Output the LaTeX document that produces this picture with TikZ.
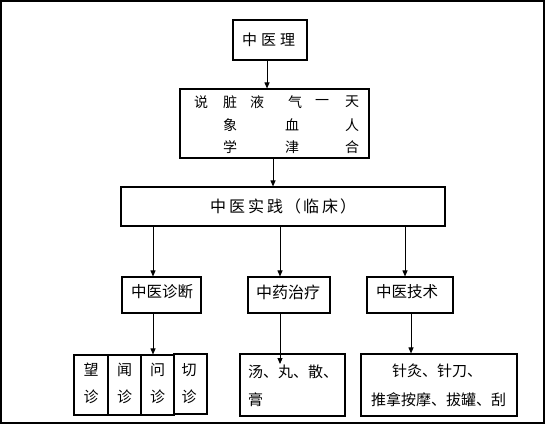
\documentclass[tikz,border=0pt]{standalone}
\usepackage{fontspec}
\newfontfamily\cjk{Noto Sans CJK SC}
\usetikzlibrary{arrows.meta}
\begin{document}
\begin{tikzpicture}[x=1pt,y=-1pt,
  box/.style={draw,line width=1.1pt,inner sep=0pt,rectangle},
  txt/.style={inner sep=0pt,font=\cjk\fontsize{15}{18}\selectfont},
  stxt/.style={inner sep=0pt,font=\cjk\fontsize{14}{17}\selectfont},
  arr/.style={line width=0.9pt,-{Triangle[length=6pt,width=5pt]}}]
\useasboundingbox (0,0) rectangle (548,427);
\draw[line width=1.4pt] (1,1) rectangle (544,423);
% boxes
\node[box,minimum width=74pt,minimum height=40pt] (li) at (270,40) {};
\node[box,minimum width=189pt,minimum height=69pt] (b2) at (274.5,123.5) {};
\node[box,minimum width=324pt,minimum height=39pt] (sj) at (283,206.5) {};
\node[box,minimum width=79pt,minimum height=36pt] (zd) at (161.5,295) {};
\node[box,minimum width=82pt,minimum height=36pt] (zy) at (289,295) {};
\node[box,minimum width=86pt,minimum height=36pt] (js) at (410,295) {};
\node[box,minimum width=34pt,minimum height=60pt] (wang) at (91,385) {};
\node[box,minimum width=33pt,minimum height=60pt] (wen) at (124.5,385) {};
\node[box,minimum width=33pt,minimum height=60pt] (wen2) at (157.5,385) {};
\node[box,minimum width=33pt,minimum height=60pt] (qie) at (190.5,384) {};
\node[box,minimum width=105pt,minimum height=62pt] (tang) at (292.5,385) {};
\node[box,minimum width=156pt,minimum height=62pt] (zhen) at (439,385) {};
% texts
\node[txt,anchor=west] (tli) at (242,40) {中\hspace{4pt}医\hspace{4pt}理};
\foreach \c/\x/\y [count=\i] in {说/201/102,脏/230/102,液/257/102,气/295/102,一/322/102,天/352/102,
  象/230/125,血/292/125,人/352/125,学/230/147,津/292/147,合/352/147}
  \node[stxt] (c\i) at (\x,\y) {\c};
\node[txt,font=\cjk\fontsize{16}{19}\selectfont,anchor=west] (tsj) at (210,206)
  {中\hspace{3pt}医\hspace{3pt}实\hspace{3pt}践\hspace{2pt}（\hspace{2pt}临\hspace{3pt}床\hspace{2pt}）};
\node[txt,font=\cjk\fontsize{15.5}{18}\selectfont,anchor=west] (tzd) at (131,292) {中医诊断};
\node[txt,font=\cjk\fontsize{16}{18}\selectfont,anchor=west] (tzy) at (256,292) {中药治疗};
\node[txt,font=\cjk\fontsize{15.5}{18}\selectfont,anchor=west] (tjs) at (376,292) {中医技术};
\foreach \a/\b/\x/\n in {望/诊/91/w1,闻/诊/124.5/w2,问/诊/157.5/w3,切/诊/189/w4}{
  \node[txt] (\n a) at (\x,370) {\a};
  \node[txt] (\n b) at (\x,397) {\b};
}
\node[txt,anchor=west] (tt1) at (248,372) {汤、丸、散、};
\node[txt,anchor=west] (tt2) at (248,400) {膏};
\node[txt,anchor=west] (tz1) at (392,371) {针灸、针刀、};
\node[txt,anchor=west] (tz2) at (371,400) {推拿按摩、拔罐、刮};
% connectors
\coordinate (tangtip) at (280,364);
\draw[arr] (267,0 |- li.south) -- (267,0 |- b2.north);
\draw[arr] (273,0 |- b2.south) -- (273,0 |- sj.north);
\draw[arr] (153,0 |- sj.south) -- (153,0 |- zd.north);
\draw[arr] (280,0 |- sj.south) -- (280,0 |- zy.north);
\draw[arr] (405,0 |- sj.south) -- (405,0 |- js.north);
\draw[arr] (153,0 |- zd.south) -- (153,0 |- wen2.north);
\draw[arr] (280,0 |- zy.south) -- (tangtip);
\draw[arr] (411,0 |- js.south) -- (411,0 |- zhen.north);
\end{tikzpicture}
\end{document}
